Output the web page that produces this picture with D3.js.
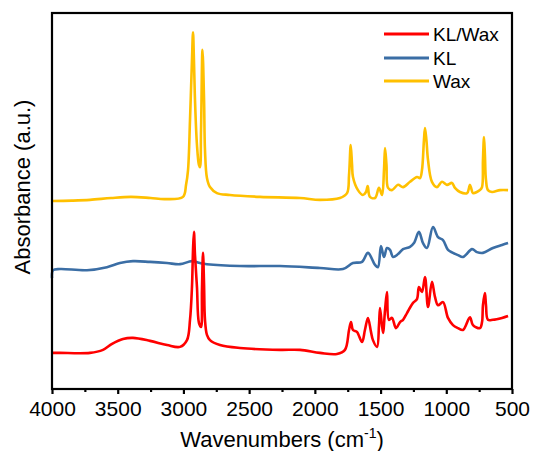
<!DOCTYPE html>
<html>
<head>
<meta charset="utf-8">
<script src="https://cdn.jsdelivr.net/npm/d3@7/dist/d3.min.js"></script>
<style>
  html, body { margin: 0; padding: 0; background: #fff; }
  svg { display: block; font-family: "Liberation Sans", Arial, sans-serif; }
</style>
</head>
<body>
<svg id="chart" width="534" height="451"></svg>
<script>
// ---- Data (wavenumber cm-1, absorbance a.u. with offsets) ----
const seriesNames = ["KL/Wax", "KL", "Wax"];
const seriesColors = ["#ff0000", "#3b6ea5", "#ffc000"];
const xTicks = [4000, 3500, 3000, 2500, 2000, 1500, 1000, 500];
const xMinorTicks = [3750, 3250, 2750, 2250, 1750, 1250, 750];

const waxData = [
  [4000,50.0],[3850,50.1],[3711,50.3],[3550,50.8],[3399,51.1],[3250,50.8],[3140,50.5],[3003,51.1],[2980,54.3],[2965,58.2],
  [2950,71.5],[2935,87.5],[2927,94.9],[2920,87.5],[2912,76.9],[2897,64.9],[2882,59.6],
  [2874,59.0],[2866,68.9],[2855,90.2],[2843,76.9],[2836,63.6],[2821,56.1],[2798,53.7],
  [2745,52.1],[2646,51.6],[2417,51.1],[2113,50.8],[1961,50.3],[1809,50.8],[1755,52.1],
  [1740,56.9],[1727,64.9],[1717,59.6],[1710,56.4],[1672,52.9],[1634,51.6],[1611,52.4],
  [1598,54.0],[1581,51.1],[1542,50.8],[1512,53.5],[1489,51.6],[1474,58.2],[1466,64.1],
  [1455,59.6],[1443,53.5],[1413,52.9],[1367,54.3],[1329,53.7],[1276,55.1],[1223,56.4],
  [1200,56.1],[1185,58.2],[1170,66.2],[1162,69.4],[1151,66.2],[1139,60.9],[1109,55.1],
  [1071,53.7],[1033,55.1],[995,54.3],[957,54.8],[934,53.5],[896,52.4],[842,52.1],
  [827,53.5],[820,54.3],[808,53.1],[797,52.1],[744,52.9],[728,53.7],[721,60.9],
  [713,67.0],[706,62.2],[698,55.6],[683,52.9],[652,52.4],[591,52.9],[530,52.9]
];

const klData = [
  [4000,29.5],[3992,31.6],[3939,31.9],[3734,31.6],[3582,32.4],[3483,33.5],[3384,34.0],
  [3254,33.8],[3125,33.5],[3026,33.2],[2935,34.0],[2874,33.5],[2821,33.2],[2570,32.7],
  [2265,32.7],[1961,32.2],[1786,31.9],[1710,33.5],[1641,33.8],[1596,36.2],[1542,33.0],
  [1520,32.4],[1497,38.0],[1474,35.1],[1451,37.5],[1428,37.0],[1405,35.1],[1367,35.9],
  [1329,37.2],[1276,37.8],[1246,38.8],[1208,41.8],[1177,38.8],[1147,37.5],[1101,43.1],
  [1063,40.4],[1025,39.6],[987,37.0],[949,36.2],[911,35.6],[873,35.1],[804,37.2],
  [767,36.4],[721,36.2],[645,37.5],[576,38.3],[530,38.8]
];

const klWaxData = [
  [4000,9.6],[3939,9.6],[3711,9.6],[3612,10.4],[3543,12.0],[3460,13.3],[3384,13.6],
  [3254,12.8],[3125,11.7],[3026,11.2],[2973,13.0],[2950,18.4],[2935,27.1],[2927,37.0],
  [2920,41.8],[2912,35.6],[2897,27.1],[2882,17.6],[2866,16.5],[2859,26.3],[2851,36.2],
  [2843,27.7],[2836,18.4],[2821,14.4],[2798,13.0],[2722,11.7],[2570,10.9],[2265,10.4],
  [2113,10.4],[1961,9.6],[1832,9.3],[1771,10.4],[1740,15.7],[1725,17.8],[1710,15.7],
  [1680,15.2],[1641,12.5],[1619,15.7],[1596,18.9],[1573,15.2],[1558,13.0],[1527,11.2],
  [1512,17.0],[1504,21.5],[1482,14.9],[1466,21.0],[1451,25.8],[1436,18.4],[1413,18.9],
  [1383,16.2],[1352,17.8],[1329,18.4],[1299,20.2],[1253,22.9],[1223,23.9],[1208,27.1],
  [1185,25.8],[1162,29.8],[1139,21.8],[1109,28.5],[1086,24.5],[1063,22.3],[1025,23.1],
  [987,18.9],[949,17.0],[911,16.2],[873,15.7],[820,19.1],[797,17.0],[744,16.2],
  [728,17.8],[721,22.3],[706,25.5],[698,22.3],[683,18.4],[645,18.4],[576,18.9],[530,19.4]
];

const seriesData = [klWaxData, klData, waxData];

// ---- Layout ----
const svg = d3.select("#chart");
const plotLeft = 52, plotRight = 512, plotTop = 13, plotBottom = 389;

const x = d3.scaleLinear().domain([4000, 500]).range([plotLeft, plotRight]);
const y = d3.scaleLinear().domain([0, 100]).range([plotBottom, plotTop]);

const line = d3.line()
  .x(d => x(d[0])).y(d => y(d[1]))
  .curve(d3.curveCatmullRom.alpha(0.5));

const drawOrder = [2, 1, 0];
drawOrder.forEach(i => {
  svg.append("path")
    .datum(seriesData[i])
    .attr("fill", "none")
    .attr("stroke", seriesColors[i])
    .attr("stroke-width", 2.6)
    .attr("stroke-linejoin", "round")
    .attr("d", line);
});

// Frame
svg.append("rect")
  .attr("x", plotLeft).attr("y", plotTop)
  .attr("width", plotRight - plotLeft).attr("height", plotBottom - plotTop)
  .attr("fill", "none").attr("stroke", "#000").attr("stroke-width", 2.2);

// X axis major ticks
const xAxis = svg.append("g")
  .attr("transform", `translate(0,${plotBottom})`)
  .call(d3.axisBottom(x).tickValues(xTicks).tickSize(5).tickPadding(7).tickFormat(d3.format("d")));
xAxis.select(".domain").remove();
xAxis.selectAll(".tick line").attr("stroke", "#000").attr("stroke-width", 2.2);
xAxis.selectAll(".tick text")
  .attr("font-size", 21)
  .attr("fill", "#000")
  .attr("font-family", "'Liberation Sans', Arial, sans-serif");

// Minor ticks
const xMinor = svg.append("g")
  .attr("transform", `translate(0,${plotBottom})`)
  .call(d3.axisBottom(x).tickValues(xMinorTicks).tickSize(3).tickFormat(""));
xMinor.select(".domain").remove();
xMinor.selectAll(".tick line").attr("stroke", "#000").attr("stroke-width", 2.2);

// Axis titles
const xTitle = svg.append("text")
  .attr("x", (plotLeft + plotRight) / 2)
  .attr("y", 447)
  .attr("text-anchor", "middle")
  .attr("font-size", 22)
  .attr("fill", "#000");
xTitle.append("tspan").text("Wavenumbers (cm");
xTitle.append("tspan").text("-1").attr("font-size", 14).attr("dy", -9);
xTitle.append("tspan").text(")").attr("dy", 9);

svg.append("text")
  .attr("transform", `translate(30,187) rotate(-90)`)
  .attr("text-anchor", "middle")
  .attr("font-size", 22)
  .attr("fill", "#000")
  .text("Absorbance (a.u.)");

// Legend
const legendY = [34, 58, 81];
seriesNames.forEach((name, i) => {
  svg.append("line")
    .attr("x1", 384).attr("x2", 429)
    .attr("y1", legendY[i]).attr("y2", legendY[i])
    .attr("stroke", seriesColors[i]).attr("stroke-width", 3);
  svg.append("text")
    .attr("x", 433).attr("y", legendY[i])
    .attr("dy", "0.35em")
    .attr("font-size", 19)
    .attr("fill", "#000")
    .text(name);
});
</script>
</body>
</html>
